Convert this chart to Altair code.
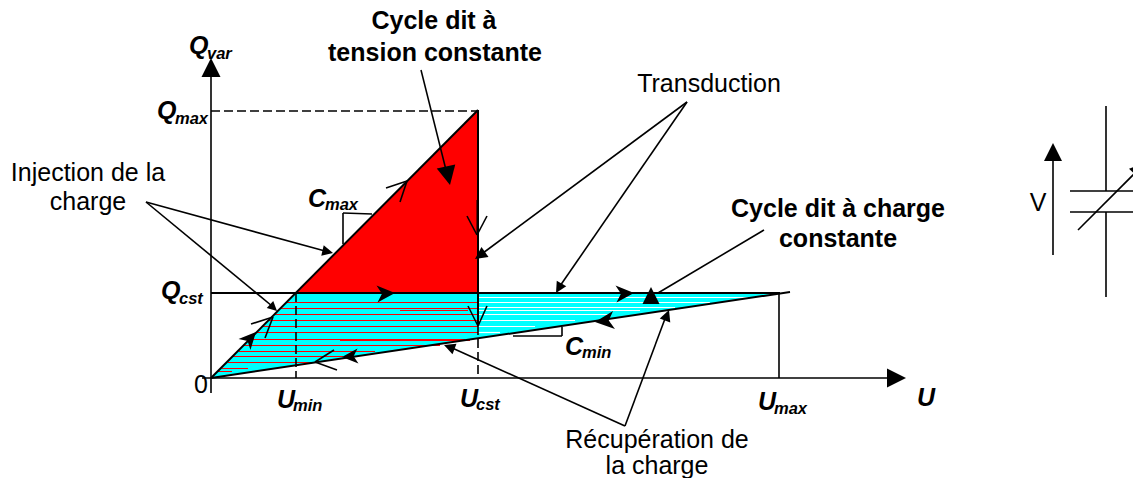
import math
import altair as alt
import pandas as pd

FONT = "Liberation Sans"
# All values are read in the picture's pixel frame
cyan_x = [211, 296, 780]
cyan_top = [378, 293, 293]
cyan_bot = [378, 365.4, 293]
red_x = [296, 478]
red_top = [293, 110]
red_bot = [293, 293]

red_stripes = [  # y, x start, x end
    (302.5, 287, 478), (308.5, 281, 478), (310.5, 400, 468), (314.5, 275, 478), (320.5, 269, 478),
    (326.5, 263, 478), (332.5, 257, 478), (339.5, 250, 465), (340.5, 340, 470), (345.5, 244, 440),
    (351.5, 239, 375), (356.5, 233, 343), (362.5, 228, 316), (368.5, 222, 248), (371.5, 218, 232),
]
white_stripes = [
    (297.5, 478, 748), (302.5, 478, 710), (307.5, 478, 675), (310.5, 478, 640), (314.5, 478, 610),
    (320.5, 478, 575), (326.5, 478, 535), (332.5, 478, 500),
]

solid_thick = [  # x1, y1, x2, y2
    (211, 293, 780, 293), (211, 378, 478, 110), (211, 378, 790, 292), (478, 110, 478, 326),
    (350, 293, 380, 293), (477.5, 200, 477.5, 235),
]
solid_thin = [
    (211, 393, 211, 70), (202, 378, 890, 378), (779, 293, 779, 378),
    # pointer lines
    (421, 70, 446, 170), (687, 102, 483, 253), (687, 102, 560, 286),
    (146, 202, 325, 251), (146, 202, 272, 306), (764, 230, 658, 293),
    (625, 426, 450, 347), (625, 426, 666, 316),
    # slope brackets
    (513, 336, 562, 336), (562, 336, 562, 327), (372, 214, 343, 213), (343, 213, 343, 244),
    # open arrows
    (386, 188, 407, 181), (400, 202, 407, 181), (467, 216, 477, 235), (487, 216, 477, 235),
    (468, 306, 478, 326), (487, 306, 478, 326), (251, 324, 273, 317), (265, 338, 273, 317),
    (334, 350, 315, 362), (337, 370, 315, 362),
    # capacitor
    (1053, 255, 1053, 158), (1106, 106, 1106, 191), (1106, 212, 1106, 297),
    (1070, 191, 1141, 191), (1070, 212, 1141, 212), (1078, 230, 1136, 172),
]
dashed = [(211, 111, 478, 111), (296, 293, 296, 378), (478, 326, 478, 378)]

tri_heads = [  # tip x, tip y, back x, back y
    (211, 58, 211, 77), (906, 378, 887, 378), (1053, 143, 1053, 161), (1148, 162, 1135.5, 175),
    (450, 185, 446, 166.5), (475, 259, 485, 252), (556, 293, 561.5, 283.5),
    (333, 253, 322.5, 250.5), (277, 311, 270, 304.5), (651, 287, 651, 304),
    (444, 345, 454.5, 349), (669, 310, 665, 320.5),
]
stealth_heads = [
    (395, 293, 377, 294), (634, 293, 616, 294), (342, 357, 358, 356),
    (595, 322, 614, 320), (256, 332, 244.5, 344.5),
]

regular_labels = [  # text, x centre, baseline y, size
    ("Injection de la", 88, 181, 25), ("charge", 88, 210, 25),
    ("Récupération de", 657, 448, 25), ("la charge", 657, 474, 25),
    ("Transduction", 709, 92, 25), ("V", 1038, 211, 25),
]
regular_left = [("0", 194, 393, 25)]
bold_labels = [
    ("Cycle dit à", 434, 29, 25), ("tension constante", 435, 61, 25),
    ("Cycle dit à charge", 838, 217, 25), ("constante", 838, 247, 25),
]
math_labels = [  # text, left x, baseline y, size
    ("Q", 189, 54, 25), ("var", 207, 59, 16.5), ("Q", 157, 119, 25), ("max", 175, 124, 16.5),
    ("Q", 161, 299, 25), ("cst", 179, 304, 16.5), ("C", 308, 207, 25), ("max", 325, 210, 16.5),
    ("C", 565, 355, 25), ("min", 582, 358, 16.5), ("U", 277, 408, 25), ("min", 293, 411, 16.5),
    ("U", 460, 407, 25), ("cst", 476, 410, 16.5), ("U", 758, 410, 25), ("max", 774, 414, 16.5),
    ("U", 917, 406, 25),
]

sx = alt.Scale(domain=[8, 1133], nice=False, zero=False)
sy = alt.Scale(domain=[478, 8], nice=False, zero=False)
X = alt.X("x:Q", scale=sx, axis=None)
Y = alt.Y("y:Q", scale=sy, axis=None, stack=None)


def rules(rows, **kw):
    df = pd.DataFrame(rows, columns=["x", "y", "x2", "y2"])
    return alt.Chart(df).mark_rule(**kw).encode(X, Y, x2="x2:Q", y2="y2:Q")


def stripes(rows, color, w):
    df = pd.DataFrame([(a, y, b, y) for y, a, b in rows], columns=["x", "y", "x2", "y2"])
    return alt.Chart(df).mark_rule(color=color, strokeWidth=w).encode(X, Y, x2="x2:Q", y2="y2:Q")


def heads(rows, path):
    out = []
    for tx, ty, bx, by in rows:
        L = math.hypot(tx - bx, ty - by)
        out.append(dict(x=(tx + bx) / 2, y=(ty + by) / 2, s=L * L,
                        a=(math.degrees(math.atan2(tx - bx, by - ty))) % 360))
    return alt.Chart(pd.DataFrame(out)).mark_point(
        shape=path, filled=True, color="black", opacity=1, strokeWidth=0, clip=True
    ).encode(X, Y, size=alt.Size("s:Q", scale=None), angle=alt.Angle("a:Q", scale=None))


def texts(rows, **kw):
    df = pd.DataFrame(rows, columns=["t", "x", "y", "s"])
    return alt.Chart(df).mark_text(font=FONT, baseline="alphabetic", color="black", **kw).encode(
        X, Y, text="t:N", size=alt.Size("s:Q", scale=None)
    )


cyan = alt.Chart(pd.DataFrame(dict(x=cyan_x, y=cyan_top, y2=cyan_bot))).mark_area(
    color="#00ffff", opacity=1, line=False).encode(X, Y, y2="y2:Q")
red = alt.Chart(pd.DataFrame(dict(x=red_x, y=red_top, y2=red_bot))).mark_area(
    color="#ff0000", opacity=1, line=False).encode(X, Y, y2="y2:Q")

chart = alt.layer(
    cyan,
    red,
    stripes(white_stripes, "#ffffff", 1.2),
    stripes(red_stripes, "#ff0000", 1),
    rules(solid_thick, color="black", strokeWidth=2),
    rules(solid_thin, color="black", strokeWidth=1.6),
    rules(dashed, color="black", strokeWidth=1.6, strokeDash=[9, 4]),
    heads(tri_heads, "M0,-1L1,1L-1,1Z"),
    heads(stealth_heads, "M0,-1L0.95,1L0,0.45L-0.95,1Z"),
    texts(regular_labels, align="center"),
    texts(regular_left, align="left"),
    texts(bold_labels, align="center", fontWeight="bold"),
    texts(math_labels, align="left", fontWeight="bold", fontStyle="italic"),
).properties(
    width=1125, height=470, padding=0, autosize=alt.AutoSizeParams(type="none")
).configure_view(stroke=None)

chart.save("out.html", embed_options={"renderer": "svg", "actions": False})
